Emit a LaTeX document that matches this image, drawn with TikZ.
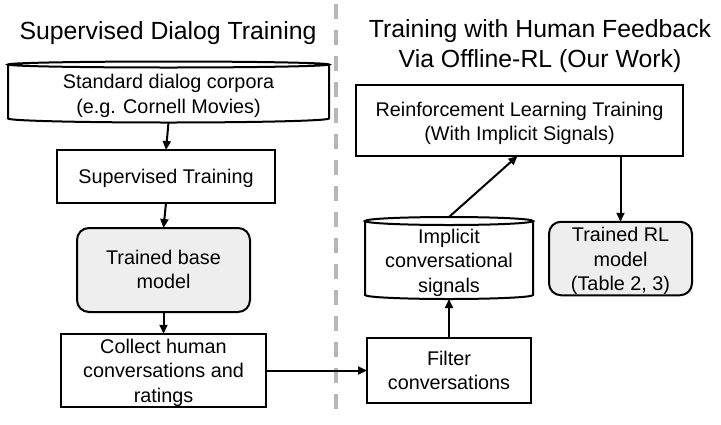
\documentclass[tikz,border=0pt]{standalone}
\usepackage{fontspec}
\setmainfont{Liberation Sans}
\usetikzlibrary{arrows.meta,calc}
\definecolor{boxgray}{HTML}{EEEEEE}
\definecolor{sepgray}{HTML}{B7B7B7}
\newcommand\boxtext[2]{\raisebox{-#1}[\height][\depth]{\begin{tabular}{@{}c@{}}#2\end{tabular}}}
\begin{document}
\begin{tikzpicture}[x=1pt,y=-1pt,
  every node/.style={inner sep=0pt,outer sep=0pt,align=center,font=\fontsize{19.8}{24.5}\selectfont},
  titletext/.style={font=\fontsize{24.8}{30}\selectfont},
  plainbox/.style={draw,line width=2pt,rectangle},
  roundbox/.style={draw,line width=2pt,rectangle,rounded corners=12pt,fill=boxgray},
  cylbody/.style={rectangle},
  cylline/.style={line width=2pt},
  conn/.style={line width=2pt,-{Triangle[length=9pt,width=8pt]}}]
\useasboundingbox (0,0) rectangle (721,424);
\fill[white] (0,0) rectangle (721,424);

% separator
\draw[sepgray,line width=3.5pt,dash pattern=on 15pt off 11pt] (336,4) -- (336,411);

% titles
\node[titletext] (t1) at (168,33) {Supervised Dialog Training};
\node[titletext] (t2) at (540,46) {Training with Human Feedback\\Via Offline-RL (Our Work)};

% left column
\node[cylbody,minimum width=321pt,minimum height=61pt] (corp) at (168.5,92) {\boxtext{4pt}{Standard dialog corpora\\(e.g. Cornell Movies)}};
\draw[cylline] ($(corp.north)+(0,3)$) ellipse [x radius=160.5pt, y radius=3pt];
\draw[cylline] ($(corp.north west)+(0,3)$) -- ($(corp.south west)+(0,-4)$)
  arc[start angle=180,end angle=360,x radius=160.5pt,y radius=4pt] -- ($(corp.north east)+(0,3)$);

\node[plainbox,minimum width=218pt,minimum height=53pt] (sup) at (166,176.5) {\boxtext{2.5pt}{Supervised Training}};
\node[roundbox,minimum width=173pt,minimum height=84pt] (base) at (163.5,270) {\boxtext{1.5pt}{Trained base\\model}};
\node[plainbox,minimum width=205pt,minimum height=71pt] (coll) at (163.5,370.5) {\boxtext{2.5pt}{Collect human\\conversations and\\ratings}};

% right column
\node[plainbox,minimum width=327pt,minimum height=71pt] (rl) at (519.5,120.5) {\boxtext{3pt}{Reinforcement Learning Training\\(With Implicit Signals)}};
\node[cylbody,minimum width=168pt,minimum height=82pt] (impl) at (449,258) {\boxtext{5pt}{Implicit\\conversational\\signals}};
\draw[cylline] ($(impl.north)+(0,4)$) ellipse [x radius=84pt, y radius=4pt];
\draw[cylline] ($(impl.north west)+(0,4)$) -- ($(impl.south west)+(0,-4)$)
  arc[start angle=180,end angle=360,x radius=84pt,y radius=4pt] -- ($(impl.north east)+(0,4)$);
\node[roundbox,minimum width=143pt,minimum height=73pt] (trl) at (620.5,258.5) {\boxtext{3pt}{Trained RL\\model\\(Table 2, 3)}};
\node[plainbox,minimum width=164pt,minimum height=65pt] (filt) at (449,370.5) {\boxtext{2pt}{Filter\\conversations}};

% connectors
\draw[conn] (corp.south) -- (sup.north);
\draw[conn] (sup.south) -- (base.north);
\draw[conn] (base.south) -- (coll.north);
\draw[conn] (coll.east) -- (filt.west);
\draw[conn] (filt.north) -- (impl.south);
\draw[conn] (impl.north) -- ($(rl.south)+(-2,0)$);
\draw[conn] (rl.south -| trl.north) -- (trl.north);
\end{tikzpicture}
\end{document}
